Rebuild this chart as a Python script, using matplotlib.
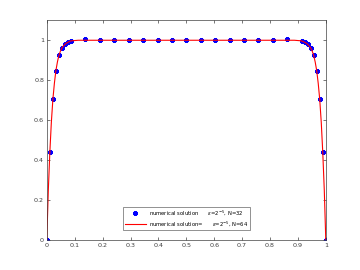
import numpy as np
import matplotlib
matplotlib.use("Agg")
import matplotlib.pyplot as plt

# numerical solution, Shishkin mesh N=32
x32 = [0, 0.0109, 0.0218, 0.0326, 0.0435, 0.0544, 0.0653, 0.0761, 0.087,
       0.1386, 0.1903, 0.2419, 0.2935, 0.3451, 0.3968, 0.4484, 0.5,
       0.5516, 0.6033, 0.6549, 0.7065, 0.7581, 0.8098, 0.8614, 0.913,
       0.9239, 0.9347, 0.9456, 0.9565, 0.9674, 0.9782, 0.9891, 1.0]
y32 = [0, 0.44, 0.705, 0.848, 0.925, 0.962, 0.983, 0.99, 0.995,
       1.005, 1.0, 1.0, 1.0, 1.0, 1.0, 1.0, 1.0,
       1.0, 1.0, 1.0, 1.0, 1.0, 1.0, 1.005, 0.995,
       0.99, 0.983, 0.962, 0.925, 0.848, 0.705, 0.44, 0]

# numerical solution, N=64
x64 = [0, 0.0054, 0.0109, 0.0163, 0.0218, 0.0272, 0.0326, 0.0381, 0.0435,
       0.0489, 0.0544, 0.0598, 0.0653, 0.0707, 0.0761, 0.0816, 0.087,
       0.1128, 0.1386, 0.1644, 0.1903, 0.2161, 0.2419, 0.2677, 0.2935,
       0.3193, 0.3451, 0.371, 0.3968, 0.4226, 0.4484, 0.4742, 0.5,
       0.5258, 0.5516, 0.5774, 0.6032, 0.629, 0.6549, 0.6807, 0.7065,
       0.7323, 0.7581, 0.7839, 0.8097, 0.8356, 0.8614, 0.8872, 0.913,
       0.9184, 0.9239, 0.9293, 0.9347, 0.9402, 0.9456, 0.9511, 0.9565,
       0.9619, 0.9674, 0.9728, 0.9782, 0.9837, 0.9891, 0.9946, 1.0]
y64 = [0, 0.25, 0.44, 0.59, 0.705, 0.785, 0.848, 0.892, 0.925,
       0.946, 0.962, 0.972, 0.98, 0.986, 0.99, 0.994, 0.997,
       1.0, 1.0, 1.0, 1.0, 1.0, 1.0, 1.0, 1.0,
       1.0, 1.0, 1.0, 1.0, 1.0, 1.0, 1.0, 1.0,
       1.0, 1.0, 1.0, 1.0, 1.0, 1.0, 1.0, 1.0,
       1.0, 1.0, 1.0, 1.0, 1.0, 1.0, 1.0, 0.997,
       0.994, 0.99, 0.986, 0.98, 0.972, 0.962, 0.946, 0.925,
       0.892, 0.848, 0.785, 0.705, 0.59, 0.44, 0.25, 0]

xticks = [0, 0.1, 0.2, 0.3, 0.4, 0.5, 0.6, 0.7, 0.8, 0.9, 1]
xticklabels = ["0", "0.1", "0.2", "0.3", "0.4", "0.5", "0.6", "0.7", "0.8", "0.9", "1"]
yticks = [0, 0.2, 0.4, 0.6, 0.8, 1]
yticklabels = ["0", "0.2", "0.4", "0.6", "0.8", "1"]

label32 = r"numerical solution      $\epsilon$=2$^{-5}$, N=32"
label64 = r"numerical solution=      $\epsilon$=2$^{-5}$, N=64"

fig = plt.figure(figsize=(3.6, 2.7), dpi=100)
ax = fig.add_axes([0.13, 0.11, 0.775, 0.815])

ax.plot(x32, y32, linestyle="none", marker=(8, 2, 0), markersize=3.3,
        markeredgewidth=1.0, color="blue", label=label32)
ax.plot(x64, y64, color="red", linewidth=0.8, label=label64)

ax.set_xlim(0, 1)
ax.set_ylim(0, 1.1)
ax.set_xticks(xticks)
ax.set_xticklabels(xticklabels)
ax.set_yticks(yticks)
ax.set_yticklabels(yticklabels)
ax.tick_params(direction="in", top=True, right=True, length=2.5, width=0.5,
               labelsize=4.6, colors="#404040", pad=2)
for s in ax.spines.values():
    s.set_linewidth(0.5)
    s.set_color("#404040")

leg = ax.legend(loc="lower center", fontsize=3.8, frameon=True, fancybox=False,
                edgecolor="#404040", borderpad=0.4, handlelength=4.0,
                handletextpad=0.5, labelspacing=0.3, bbox_to_anchor=(0.5, 0.035))
leg.get_frame().set_linewidth(0.5)

fig.savefig("out.png", dpi=100)
